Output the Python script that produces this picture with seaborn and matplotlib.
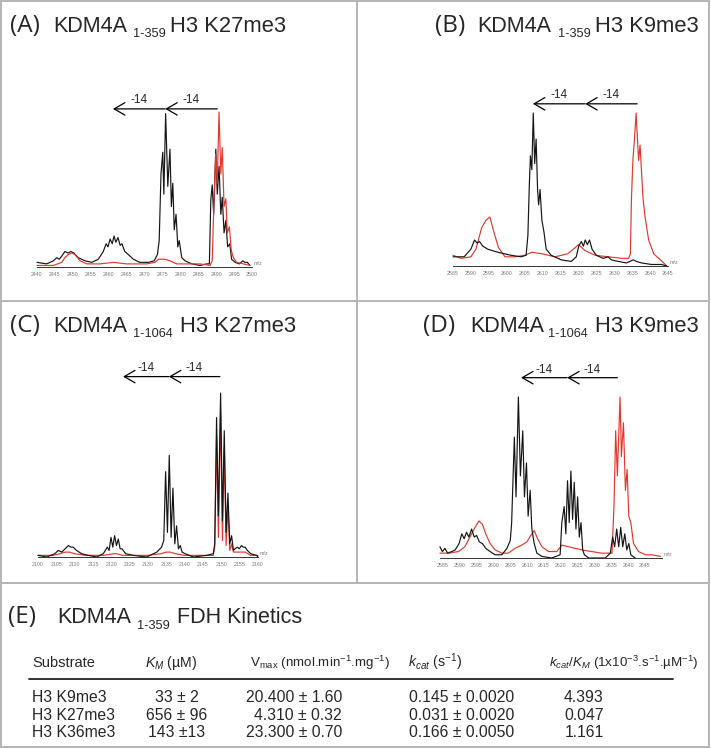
import matplotlib
matplotlib.use("Agg")

import pandas as pd
import seaborn as sns
from matplotlib import pyplot as plt
from matplotlib.lines import Line2D

sns.set_style("white")
plt.rcParams.update(
    {
        "font.family": ["Liberation Sans", "DejaVu Sans"],
        "mathtext.fontset": "custom",
        "mathtext.rm": "Liberation Sans",
        "mathtext.it": "Liberation Sans:italic",
        "mathtext.bf": "Liberation Sans:bold",
    }
)

# ---------------------------------------------------------------- spectra
# relative intensity (%), vertices at peak tops / valleys

# (A) KDM4A 1-359, H3 K27me3
A_BLACK_MZ = [2440.0, 2442.7, 2444.6, 2445.5, 2446.2, 2446.9, 2447.8, 2448.7, 2449.4, 2450.3,
              2451.5, 2453.4, 2455.3, 2457.1, 2458.5, 2459.3, 2459.8, 2460.4, 2461.0, 2461.5,
              2462.0, 2462.6, 2463.2, 2463.7, 2464.5, 2465.5, 2466.9, 2468.7, 2471.1, 2472.7,
              2473.6, 2474.1, 2474.6, 2475.1, 2475.4, 2475.9, 2476.5, 2477.1, 2477.5, 2477.9,
              2478.3, 2478.8, 2479.3, 2479.7, 2480.4, 2481.3, 2483.2, 2485.5, 2487.3, 2488.1,
              2488.5, 2488.9, 2489.3, 2489.9, 2490.3, 2490.8, 2491.3, 2491.7, 2492.2, 2492.7,
              2493.2, 2493.8, 2494.3, 2495.3, 2496.5, 2497.4, 2498.0, 2498.7, 2499.4]
A_BLACK_I = [3, 2, 4, 6, 5, 7, 10, 9, 10, 9,
             6, 4, 3, 5, 10, 15, 13, 18, 15, 20,
             16, 19, 14, 15, 10, 8, 5, 3, 3, 4,
             8, 17, 60, 74, 47, 99, 52, 76, 39, 54,
             24, 34, 13, 17, 6, 4, 2, 1, 2, 2,
             43, 53, 34, 76, 47, 65, 34, 45, 22, 30,
             13, 15, 5, 3, 2, 4, 3, 3, 1]
A_RED_MZ = [2440.0, 2444.6, 2446.9, 2447.8, 2448.7, 2449.7, 2450.6, 2452.0, 2453.9, 2457.6,
            2461.3, 2465.0, 2470.6, 2472.9, 2473.9, 2474.8, 2475.7, 2477.1, 2479.0, 2481.8,
            2485.5, 2488.3, 2488.9, 2489.4, 2489.9, 2490.3, 2490.8, 2491.3, 2491.7, 2492.2,
            2492.7, 2493.1, 2493.7, 2494.2, 2494.8, 2495.7, 2497.6, 2499.4]
A_RED_I = [1, 1, 3, 6, 8, 9, 8, 4, 2, 2,
           3, 2, 2, 3, 5, 5, 5, 4, 2, 2,
           2, 1, 4, 43, 73, 54, 100, 60, 77, 39,
           44, 22, 26, 11, 6, 3, 2, 1]
A_SHIFT = [2490.3, 2475.8, 2461.2]

# (B) KDM4A 1-359, H3 K9me3
B_BLACK_MZ = [2585.0, 2588.1, 2590.0, 2591.0, 2591.7, 2592.4, 2593.3, 2594.7, 2597.5, 2601.2,
              2604.0, 2605.4, 2605.9, 2606.3, 2606.6, 2607.0, 2607.4, 2607.8, 2608.2, 2608.6,
              2608.9, 2609.3, 2609.8, 2610.4, 2611.0, 2612.4, 2615.2, 2618.0, 2619.4, 2620.1,
              2620.8, 2621.4, 2621.9, 2622.5, 2623.1, 2623.8, 2625.0, 2626.9, 2628.3, 2629.2,
              2631.1, 2633.4, 2635.3, 2636.2, 2637.6, 2640.4, 2643.2, 2644.6]
B_BLACK_I = [6, 6, 11, 17, 15, 16, 13, 11, 9, 7,
             6, 7, 20, 53, 72, 63, 100, 67, 83, 50,
             40, 50, 30, 22, 11, 7, 4, 3, 6, 13,
             16, 13, 17, 14, 17, 11, 7, 5, 6, 4,
             3, 2, 4, 3, 2, 1, 1, 0]
B_RED_MZ = [2585.0, 2587.2, 2590.0, 2591.4, 2593.0, 2594.2, 2595.3, 2596.3, 2597.7, 2599.5,
            2602.3, 2605.0, 2607.0, 2609.8, 2613.5, 2617.0, 2619.1, 2620.0, 2621.9, 2624.7,
            2628.4, 2632.1, 2634.0, 2634.5, 2634.8, 2635.2, 2635.7, 2636.1, 2636.8, 2637.2,
            2638.0, 2638.6, 2639.6, 2641.0, 2643.3, 2644.7]
B_RED_I = [7, 5, 6, 11, 25, 30, 32, 23, 12, 6,
           6, 7, 9, 8, 6, 8, 12, 14, 10, 7,
           6, 5, 5, 8, 44, 69, 85, 100, 69, 79,
           45, 32, 17, 8, 3, 0]
B_SHIFT = [2636.4, 2621.9, 2607.3]

# (C) KDM4A 1-1064, H3 K27me3
C_BLACK_MZ = [2100.0, 2102.4, 2104.6, 2105.5, 2106.5, 2107.4, 2108.3, 2109.0, 2109.6, 2110.5,
              2111.9, 2113.7, 2116.0, 2116.9, 2117.8, 2118.9, 2119.4, 2119.9, 2120.4, 2120.9,
              2121.4, 2121.9, 2122.4, 2122.9, 2123.9, 2126.0, 2129.6, 2131.5, 2132.4, 2133.7,
              2134.3, 2134.8, 2135.3, 2135.8, 2136.3, 2136.8, 2137.3, 2137.8, 2138.3, 2138.8,
              2139.3, 2140.1, 2142.4, 2146.0, 2147.8, 2148.2, 2148.7, 2149.2, 2149.8, 2150.3,
              2150.8, 2151.3, 2151.8, 2152.3, 2152.8, 2153.3, 2153.7, 2154.4, 2154.9, 2155.5,
              2156.0, 2156.5, 2157.1, 2158.0, 2159.6, 2160.0]
C_BLACK_I = [1, 0, 2, 4, 3, 5, 7, 6, 6, 4,
             2, 1, 0, 1, 2, 6, 4, 12, 6, 13,
             7, 11, 5, 5, 2, 1, 0, 2, 3, 6,
             10, 52, 15, 62, 12, 42, 8, 19, 5, 7,
             3, 2, 0, 1, 2, 8, 85, 25, 100, 22,
             77, 15, 39, 8, 13, 4, 5, 6, 5, 7,
             6, 6, 4, 2, 1, 0]
C_RED_MZ = [2100.0, 2104.0, 2106.0, 2107.5, 2108.5, 2110.0, 2113.0, 2118.0, 2120.5, 2121.5,
            2123.0, 2130.0, 2133.5, 2135.0, 2136.0, 2137.5, 2140.0, 2147.8, 2148.2, 2148.7,
            2149.2, 2149.8, 2150.3, 2150.8, 2151.3, 2151.8, 2152.3, 2152.8, 2153.3, 2154.5,
            2155.5, 2156.5, 2158.0, 2160.0]
C_RED_I = [1, 1, 2, 3, 3, 2, 1, 1, 2, 2,
           1, 1, 2, 3, 3, 2, 1, 1, 6, 73,
           12, 89, 10, 67, 7, 31, 4, 8, 3, 3,
           3, 3, 1, 1]
C_SHIFT = [2149.6, 2135.7, 2123.2]

# (D) KDM4A 1-1064, H3 K9me3
D_BLACK_MZ = [2584.1, 2584.8, 2585.6, 2586.4, 2587.6, 2588.6, 2589.8, 2590.6, 2591.3, 2592.0,
              2592.7, 2593.5, 2594.3, 2595.0, 2595.8, 2596.7, 2597.7, 2599.0, 2600.5, 2602.5,
              2604.0, 2605.0, 2605.4, 2606.2, 2606.7, 2607.4, 2608.0, 2608.7, 2609.2, 2609.8,
              2610.3, 2610.9, 2611.4, 2612.1, 2612.9, 2614.4, 2617.3, 2619.8, 2620.3, 2621.0,
              2621.5, 2622.0, 2622.5, 2623.0, 2623.5, 2624.0, 2624.5, 2625.0, 2625.5, 2626.0,
              2626.5, 2627.0, 2628.3, 2633.2, 2634.7, 2635.4, 2636.0, 2636.6, 2637.2, 2637.8,
              2638.4, 2639.0, 2639.6, 2640.2, 2640.8, 2642.1]
D_BLACK_I = [7, 4, 6, 3, 4, 5, 9, 15, 12, 16,
             13, 18, 13, 14, 10, 9, 6, 4, 2, 2,
             6, 11, 22, 75, 38, 100, 51, 79, 38, 59,
             26, 42, 18, 9, 3, 1, 0, 2, 22, 32,
             15, 48, 22, 54, 24, 47, 18, 38, 13, 22,
             5, 2, 0, 0, 3, 13, 7, 18, 7, 19,
             7, 15, 5, 9, 2, 0]
D_RED_MZ = [2584.1, 2586.6, 2589.6, 2591.5, 2593.0, 2594.5, 2595.7, 2596.7, 2597.7, 2599.0,
            2600.5, 2602.5, 2604.4, 2606.4, 2608.4, 2609.9, 2611.1, 2612.1, 2613.1, 2614.4,
            2616.3, 2618.8, 2620.3, 2622.3, 2624.3, 2626.3, 2629.2, 2632.2, 2635.2, 2635.8,
            2636.3, 2636.8, 2637.6, 2638.0, 2638.6, 2639.2, 2639.7, 2640.2, 2640.8, 2641.6,
            2643.1, 2645.1, 2647.1, 2649.6]
D_RED_I = [3, 3, 4, 7, 13, 19, 23, 21, 15, 9,
           5, 3, 3, 6, 8, 10, 14, 17, 12, 7,
           4, 4, 8, 7, 6, 5, 4, 3, 3, 32,
           79, 51, 100, 63, 84, 42, 55, 26, 22, 9,
           4, 2, 2, 1]
D_SHIFT = [2636.8, 2621.9, 2608.2]

# ---------------------------------------------------------------- kinetics table
SUBSTRATES = ["H3 K9me3", "H3 K27me3", "H3 K36me3"]
KM = ["33 ± 2", "656 ± 96", "143 ±13"]
VMAX = ["20.400 ± 1.60", "4.310 ± 0.32", "23.300 ± 0.70"]
KCAT = ["0.145 ± 0.0020", "0.031 ± 0.0020", "0.166 ± 0.0050"]
KCAT_KM = ["4.393", "0.047", "1.161"]

W, H = 711, 749
fig = plt.figure(figsize=(W / 100, H / 100), dpi=100)

BLACK = "#151515"
RED = "#e2382c"
GREY = "#b4b4b4"
TICK_GREY = "#7a7a7a"


def fx(px):
    return px / W


def fy(py):
    return 1 - py / H


def put(x, y, s, size, ha="left", family=None, **kw):
    fig.text(fx(x), fy(y), s, fontsize=size, ha=ha, va="baseline",
             family=family or ["Liberation Sans", "DejaVu Sans"], **kw)


def title(x_lbl, x_name, x_sub, x_rest, y, label, sub, rest):
    put(x_lbl, y, label, 17.5, family=["Open Sans", "DejaVu Sans"])
    put(x_name, y, "KDM4A", 15.5)
    put(x_sub, y + 5, sub, 9.2)
    put(x_rest, y, rest, 15.8)


panels = [
    dict(black=(A_BLACK_MZ, A_BLACK_I), red=(A_RED_MZ, A_RED_I), xlim=(2440, 2500),
         ticks=list(range(2440, 2501, 5)), box=(37, 252, 267, 112), shift=A_SHIFT,
         arrow_y=102, label_y=108, red_top=True),
    dict(black=(B_BLACK_MZ, B_BLACK_I), red=(B_RED_MZ, B_RED_I), xlim=(2585, 2645),
         ticks=list(range(2585, 2646, 5)), box=(453, 668, 266, 113), shift=B_SHIFT,
         arrow_y=106, label_y=112, red_top=False),
    dict(black=(C_BLACK_MZ, C_BLACK_I), red=(C_RED_MZ, C_RED_I), xlim=(2100, 2160),
         ticks=list(range(2100, 2161, 5)), box=(38, 258, 557, 393), shift=C_SHIFT,
         arrow_y=110, label_y=115, red_top=False),
    dict(black=(D_BLACK_MZ, D_BLACK_I), red=(D_RED_MZ, D_RED_I), xlim=(2584, 2650),
         ticks=list(range(2585, 2646, 5)), box=(439.6, 661.8, 558, 397), shift=D_SHIFT,
         arrow_y=112, label_y=117, red_top=False),
]

for p in panels:
    x0, x1, yb, yt = p["box"]
    ax = fig.add_axes([fx(x0), fy(yb), (x1 - x0) / W, (yb - yt) / H])
    ax.set_facecolor("none")

    traces = [("black", BLACK), ("red", RED)]
    if not p["red_top"]:
        traces = traces[::-1]
    for key, col in traces:
        mz, inten = p[key]
        df = pd.DataFrame({"mz": mz, "intensity": inten})
        sns.lineplot(data=df, x="mz", y="intensity", ax=ax, color=col, lw=0.85,
                     estimator=None, sort=False, clip_on=False)

    ax.set_xlim(*p["xlim"])
    ax.set_ylim(0, 100)
    ax.set_xticks(p["ticks"])
    ax.set_xticks(range(p["xlim"][0], p["xlim"][1] + 1), minor=True)
    ax.set_yticks([])
    ax.set_xlabel("")
    ax.set_ylabel("")
    for side in ["top", "right", "left"]:
        ax.spines[side].set_visible(False)
    ax.spines["bottom"].set_linewidth(0.7)
    ax.spines["bottom"].set_color("#333333")
    ax.tick_params(axis="x", which="major", length=2.4, width=0.5, pad=1.2,
                   labelsize=3.8, labelcolor=TICK_GREY, color="#333333", direction="out")
    ax.tick_params(axis="x", which="minor", length=1.6, width=0.5, color="#333333",
                   direction="out")
    ax.annotate("m/z", xy=(1, 0), xycoords="axes fraction", xytext=(1.5, 0.5),
                textcoords="offset points", fontsize=3.8, color=TICK_GREY,
                ha="left", va="bottom")

    # mass-shift arrows (-14 per demethylation)
    start, mid, end = p["shift"]
    for tail, head in [(start, mid), (mid, end)]:
        ax.annotate("", xy=(head, p["arrow_y"]), xytext=(tail, p["arrow_y"]),
                    arrowprops=dict(arrowstyle="->,head_length=0.55,head_width=0.32",
                                    lw=0.9, color="black", shrinkA=0, shrinkB=0,
                                    mutation_scale=14),
                    annotation_clip=False)
        ax.text((tail + head) / 2, p["label_y"], "-14", fontsize=8.5, ha="center",
                va="center", clip_on=False)

# panel titles
title(10, 53, 133, 170, 32, "(A)", "1-359", "H3 K27me3")
title(435, 477, 558, 595, 32, "(B)", "1-359", "H3 K9me3")
title(10, 53, 133, 180, 332, "(C)", "1-1064", "H3 K27me3")
title(423, 470, 548, 595, 332, "(D)", "1-1064", "H3 K9me3")

# panel (E): kinetics table
put(8, 623, "(E)", 17.5, family=["Open Sans", "DejaVu Sans"])
put(57, 623, "KDM4A", 15.5)
put(137, 629, "1-359", 9.2)
put(177, 623, "FDH Kinetics", 15.5)

head_y = 667
hs = 10.2
put(32, head_y, "Substrate", 10.5)
put(145, head_y, r"$K_M$ (µM)", hs)
put(250, head_y, r"V$_{\mathrm{max}}$ (nmol.min$^{-1}$.mg$^{-1}$)", 9.6)
put(408, head_y, r"$k_{cat}$ (s$^{-1}$)", hs)
put(549, head_y, r"$k_{cat}/K_M$ (1x10$^{-3}$.s$^{-1}$.µM$^{-1}$)", 9.6)

fig.add_artist(Line2D([fx(29), fx(673)], [fy(679), fy(679)], transform=fig.transFigure,
                      color="#222222", lw=1.3))

row_y = [702, 720, 737]
for i, yy in enumerate(row_y):
    put(32, yy, SUBSTRATES[i], 11.3)
    put(177, yy, KM[i], 11.3, ha="center")
    put(342, yy, VMAX[i], 11.3, ha="right")
    put(409, yy, KCAT[i], 11.3)
    put(584, yy, KCAT_KM[i], 11.3, ha="center")

# grey panel frame
frame = [((1, 1), (709, 1)), ((709, 1), (709, 747)), ((709, 747), (1, 747)),
         ((1, 747), (1, 1)), ((357, 1), (357, 583)), ((1, 301), (709, 301)),
         ((1, 583), (709, 583))]
for (xa, ya), (xb, yb) in frame:
    fig.add_artist(Line2D([fx(xa), fx(xb)], [fy(ya), fy(yb)], transform=fig.transFigure,
                          color=GREY, lw=1.4))

fig.savefig("out.png", dpi=100)
